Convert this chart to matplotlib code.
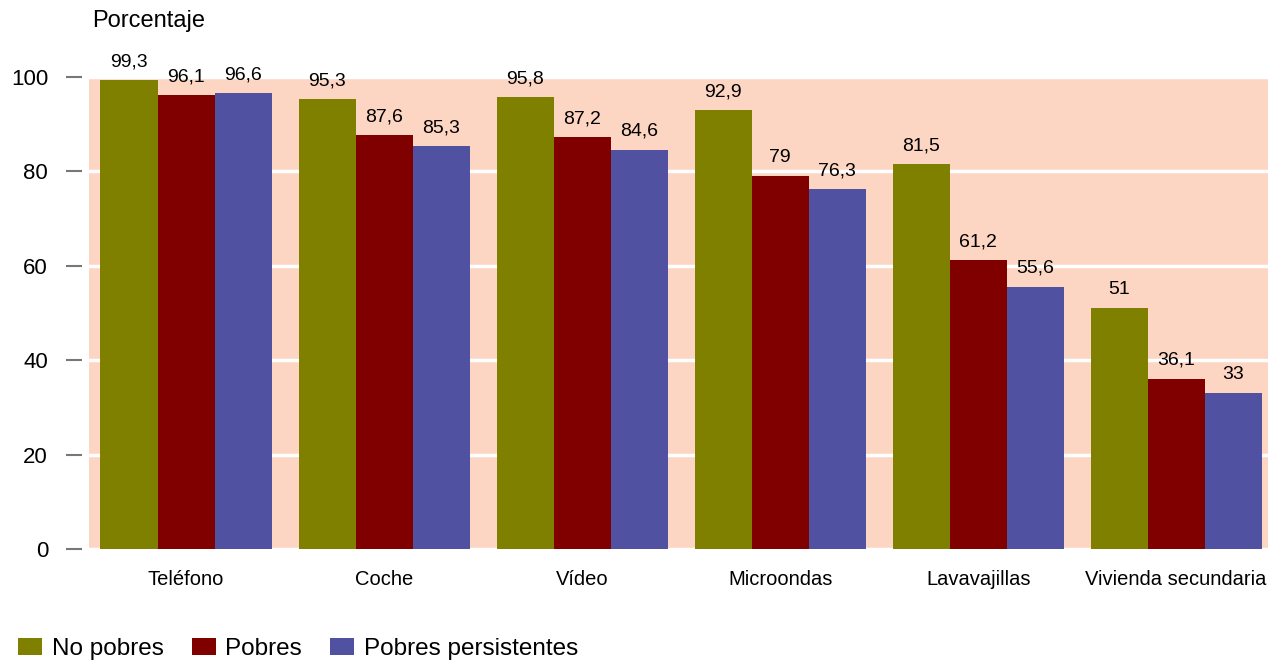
import numpy as np
import matplotlib.pyplot as plt

plt.rcParams['font.family'] = ['Liberation Sans', 'DejaVu Sans']

categorias = ['Teléfono', 'Coche', 'Vídeo', 'Microondas', 'Lavavajillas', 'Vivienda secundaria']
no_pobres = [99.3, 95.3, 95.8, 92.9, 81.5, 51]
pobres = [96.1, 87.6, 87.2, 79, 61.2, 36.1]
persistentes = [96.6, 85.3, 84.6, 76.3, 55.6, 33]

series = [('No pobres', no_pobres, '#808000'),
          ('Pobres', pobres, '#800000'),
          ('Pobres persistentes', persistentes, '#5051A1')]

fig = plt.figure(figsize=(12.68, 6.63), dpi=100)
ax = fig.add_axes([0.0702, 0.172, 0.93, 0.712])
ax.set_facecolor('#FDD5C3')

x = np.arange(len(categorias))
w = 0.288
for i, (nombre, vals, color) in enumerate(series):
    pos = x + (i - 1) * w
    bars = ax.bar(pos, vals, w, color=color, label=nombre, zorder=3)
    for b, v in zip(bars, vals):
        txt = f'{v:g}'.replace('.', ',')
        ax.annotate(txt, (b.get_x() + b.get_width() / 2, v), xytext=(0, 7),
                    textcoords='offset points', ha='center', va='bottom',
                    fontsize=14, zorder=4)

ax.set_xlim(-0.49, 5.465)
ax.set_ylim(0, 100)
ax.set_yticks([0, 20, 40, 60, 80, 100])
ax.yaxis.grid(True, color='white', linewidth=2.5, zorder=1)
ax.set_axisbelow(True)
for s in ax.spines.values():
    s.set_visible(False)
ax.spines['left'].set_position(('outward', 5))
ax.tick_params(axis='y', length=11.5, width=1.5, color='#777777', pad=13, labelsize=16)
ax.set_xticks(x)
ax.set_xticklabels(categorias)
ax.tick_params(axis='x', length=0, pad=15, labelsize=14.5)

fig.text(0.073, 0.968, 'Porcentaje', fontsize=17, va='center', ha='left')

fig.legend(loc='lower left', bbox_to_anchor=(-0.003, -0.028), ncol=3, frameon=False,
           fontsize=17.5, handlelength=0.98, handleheight=0.7, handletextpad=0.41,
           columnspacing=1.15)

fig.savefig('out.png', dpi=100)
